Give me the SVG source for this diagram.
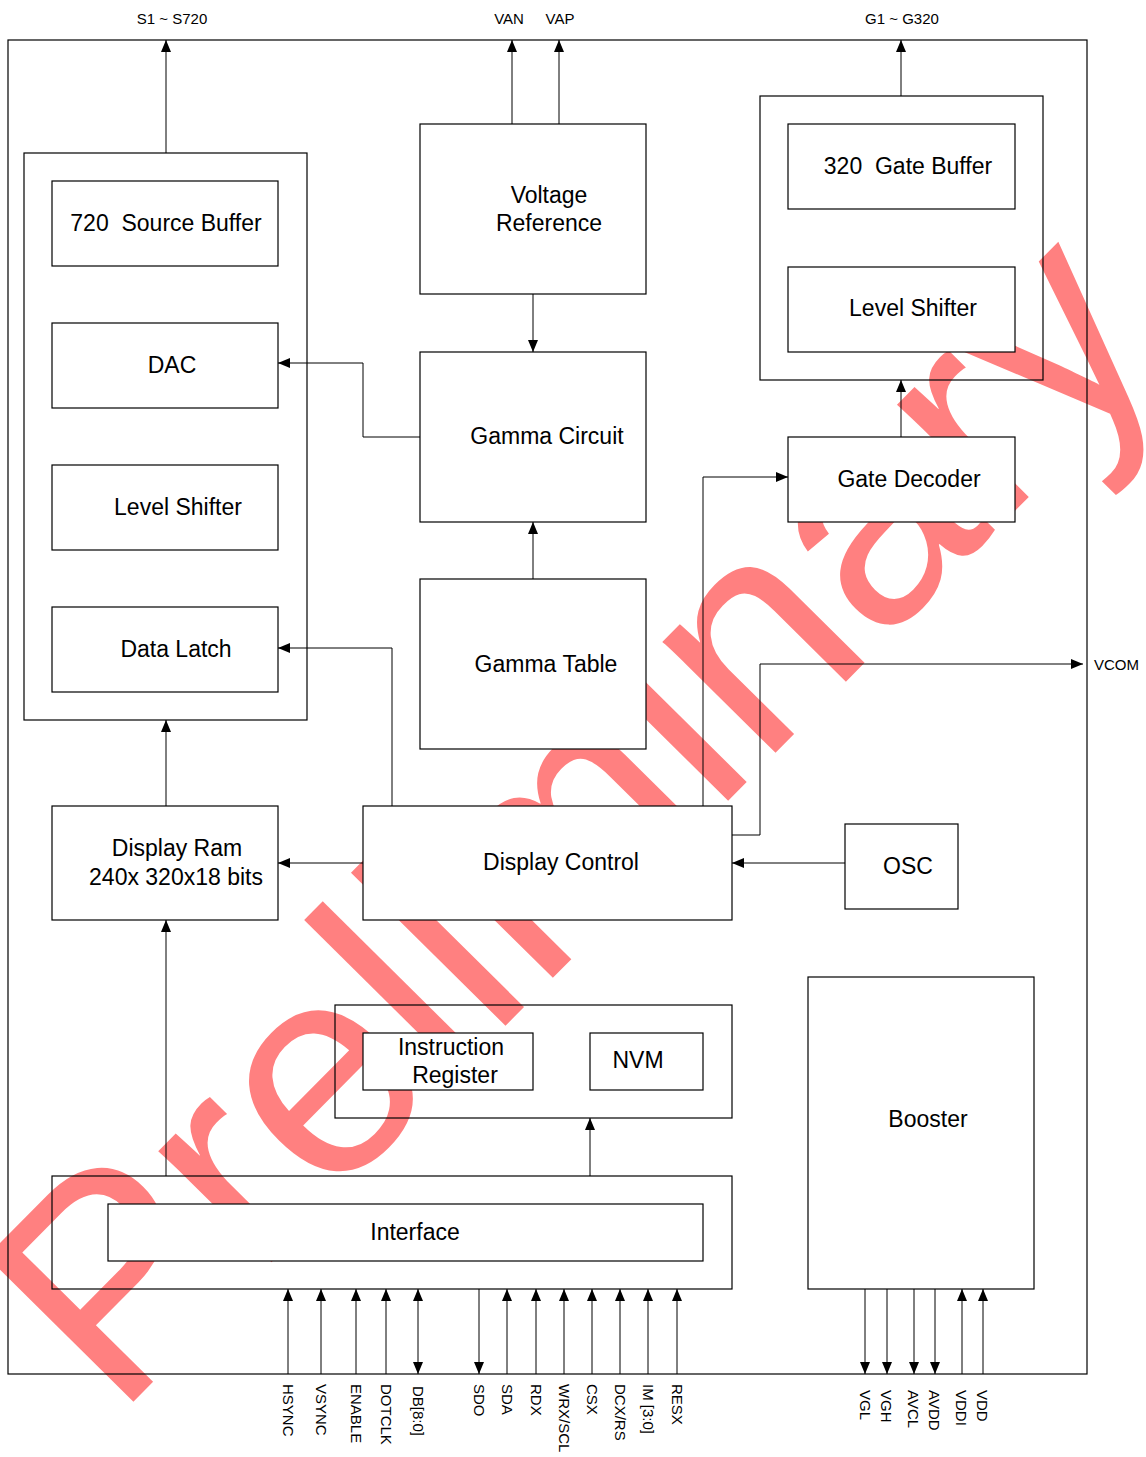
<svg xmlns="http://www.w3.org/2000/svg" width="1146" height="1457" viewBox="0 0 1146 1457">
<defs>
<marker id="arr" markerUnits="userSpaceOnUse" markerWidth="12" markerHeight="10" viewBox="0 0 12 10" refX="12" refY="5" orient="auto-start-reverse"><path d="M0,0 L12,5 L0,10 z" fill="#000"/></marker>
<style>
.wm{font-family:"Liberation Sans",Arial,sans-serif;font-size:300px;fill:#FF8080}
.box{fill:#fff;stroke:#000;stroke-width:1.2}
.cont{fill:none;stroke:#000;stroke-width:1.2}
.lbl{font-family:"Liberation Sans",Arial,sans-serif;font-size:23px;fill:#000;text-anchor:middle}
.pin{font-family:"Liberation Sans",Arial,sans-serif;font-size:15px;fill:#000}
.ln{fill:none;stroke:#000;stroke-width:1}
.a{marker-end:url(#arr)}
.b{marker-start:url(#arr);marker-end:url(#arr)}
</style>
</defs>
<rect width="1146" height="1457" fill="#fff"/>
<text class="wm" transform="translate(116.1,1419.2) rotate(-45.3)">Preliminary</text>

<g id="chip"><rect class="cont" x="8" y="40" width="1079" height="1334"/></g>

<g id="source-block"><rect class="cont" x="24" y="153" width="283" height="567"/></g>
<g id="source-buffer"><rect class="box" x="52" y="181" width="226" height="85"/><text class="lbl" x="166" y="231" xml:space="preserve">720  Source Buffer</text></g>
<g id="dac"><rect class="box" x="52" y="323" width="226" height="85"/><text class="lbl" x="172" y="373">DAC</text></g>
<g id="level-shifter-src"><rect class="box" x="52" y="465" width="226" height="85"/><text class="lbl" x="178" y="515">Level Shifter</text></g>
<g id="data-latch"><rect class="box" x="52" y="607" width="226" height="85"/><text class="lbl" x="176" y="657">Data Latch</text></g>

<g id="voltage-reference"><rect class="box" x="420" y="124" width="226" height="170"/><text class="lbl" x="549" y="203">Voltage</text><text class="lbl" x="549" y="231">Reference</text></g>
<g id="gamma-circuit"><rect class="box" x="420" y="352" width="226" height="170"/><text class="lbl" x="547" y="444">Gamma Circuit</text></g>
<g id="gamma-table"><rect class="box" x="420" y="579" width="226" height="170"/><text class="lbl" x="546" y="672">Gamma Table</text></g>

<g id="gate-block"><rect class="cont" x="760" y="96" width="283" height="284"/></g>
<g id="gate-buffer"><rect class="box" x="788" y="124" width="227" height="85"/><text class="lbl" x="908" y="174" xml:space="preserve">320  Gate Buffer</text></g>
<g id="level-shifter-gate"><rect class="box" x="788" y="267" width="227" height="85"/><text class="lbl" x="913" y="316">Level Shifter</text></g>
<g id="gate-decoder"><rect class="box" x="788" y="437" width="227" height="85"/><text class="lbl" x="909" y="487">Gate Decoder</text></g>

<g id="display-ram"><rect class="box" x="52" y="806" width="226" height="114"/><text class="lbl" x="177" y="856">Display Ram</text><text class="lbl" x="176" y="885">240x 320x18 bits</text></g>
<g id="display-control"><rect class="box" x="363" y="806" width="369" height="114"/><text class="lbl" x="561" y="870">Display Control</text></g>
<g id="osc"><rect class="box" x="845" y="824" width="113" height="85"/><text class="lbl" x="908" y="874">OSC</text></g>

<g id="register-block"><rect class="cont" x="335" y="1005" width="397" height="113"/></g>
<g id="instruction-register"><rect class="box" x="363" y="1033" width="170" height="57"/><text class="lbl" x="451" y="1055">Instruction</text><text class="lbl" x="455" y="1083">Register</text></g>
<g id="nvm"><rect class="box" x="590" y="1033" width="113" height="57"/><text class="lbl" x="638" y="1068">NVM</text></g>

<g id="interface-block"><rect class="cont" x="52" y="1176" width="680" height="113"/></g>
<g id="interface"><rect class="box" x="108" y="1204" width="595" height="57"/><text class="lbl" x="415" y="1240">Interface</text></g>
<g id="booster"><rect class="box" x="808" y="977" width="226" height="312"/><text class="lbl" x="928" y="1127">Booster</text></g>

<g id="connectors">
<path class="ln a" d="M166,153 V40"/>
<path class="ln a" d="M512,124 V40"/>
<path class="ln a" d="M559,124 V40"/>
<path class="ln a" d="M901,96 V40"/>
<path class="ln a" d="M533,294 V352"/>
<path class="ln a" d="M533,579 V522"/>
<path class="ln a" d="M420,437 H363 V363 H278"/>
<path class="ln a" d="M901,437 V380"/>
<path class="ln a" d="M703,806 V477 H788"/>
<path class="ln a" d="M732,835 H760 V664 H1083"/>
<path class="ln a" d="M392,806 V648 H278"/>
<path class="ln a" d="M363,863 H278"/>
<path class="ln a" d="M845,863 H732"/>
<path class="ln a" d="M166,806 V720"/>
<path class="ln a" d="M166,1176 V920"/>
<path class="ln a" d="M590,1176 V1118"/>
<path class="ln a" d="M288,1374 V1289"/>
<path class="ln a" d="M321,1374 V1289"/>
<path class="ln a" d="M356,1374 V1289"/>
<path class="ln a" d="M386,1374 V1289"/>
<path class="ln b" d="M418,1289 V1374"/>
<path class="ln a" d="M479,1289 V1374"/>
<path class="ln a" d="M507,1374 V1289"/>
<path class="ln a" d="M536,1374 V1289"/>
<path class="ln a" d="M564,1374 V1289"/>
<path class="ln a" d="M592,1374 V1289"/>
<path class="ln a" d="M620,1374 V1289"/>
<path class="ln a" d="M648,1374 V1289"/>
<path class="ln a" d="M677,1374 V1289"/>
<path class="ln a" d="M865,1289 V1374"/>
<path class="ln a" d="M887,1289 V1374"/>
<path class="ln a" d="M914,1289 V1374"/>
<path class="ln a" d="M935,1289 V1374"/>
<path class="ln a" d="M962,1374 V1289"/>
<path class="ln a" d="M983,1374 V1289"/>
</g>

<g id="labels">
<text class="pin" x="172" y="24" text-anchor="middle">S1 ~ S720</text>
<text class="pin" x="509" y="24" text-anchor="middle">VAN</text>
<text class="pin" x="560" y="24" text-anchor="middle">VAP</text>
<text class="pin" x="902" y="24" text-anchor="middle">G1 ~ G320</text>
<text class="pin" x="1094" y="670">VCOM</text>
<text class="pin" transform="translate(283,1384) rotate(90)">HSYNC</text>
<text class="pin" transform="translate(316,1384) rotate(90)">VSYNC</text>
<text class="pin" transform="translate(351,1384) rotate(90)">ENABLE</text>
<text class="pin" transform="translate(381,1384) rotate(90)">DOTCLK</text>
<text class="pin" transform="translate(413,1386) rotate(90)">DB[8:0]</text>
<text class="pin" transform="translate(474,1384) rotate(90)">SDO</text>
<text class="pin" transform="translate(502,1384) rotate(90)">SDA</text>
<text class="pin" transform="translate(531,1384) rotate(90)">RDX</text>
<text class="pin" transform="translate(559,1384) rotate(90)">WRX/SCL</text>
<text class="pin" transform="translate(587,1384) rotate(90)">CSX</text>
<text class="pin" transform="translate(615,1384) rotate(90)">DCX/RS</text>
<text class="pin" transform="translate(643,1384) rotate(90)">IM [3:0]</text>
<text class="pin" transform="translate(672,1384) rotate(90)">RESX</text>
<text class="pin" transform="translate(860,1390) rotate(90)">VGL</text>
<text class="pin" transform="translate(881,1390) rotate(90)">VGH</text>
<text class="pin" transform="translate(908,1390) rotate(90)">AVCL</text>
<text class="pin" transform="translate(929,1390) rotate(90)">AVDD</text>
<text class="pin" transform="translate(956,1390) rotate(90)">VDDI</text>
<text class="pin" transform="translate(977,1390) rotate(90)">VDD</text>
</g>
</svg>
